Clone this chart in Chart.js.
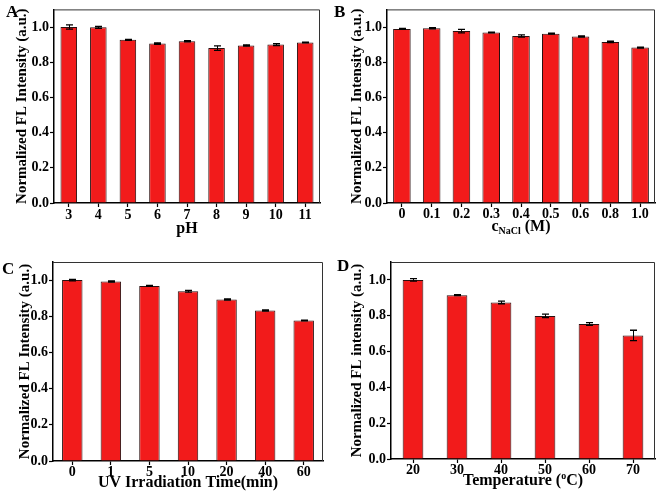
<!DOCTYPE html>
<html lang="en">
<head>
    <meta charset="UTF-8">
    <title>Normalized FL Intensity</title>
    <script src="https://cdn.jsdelivr.net/npm/chart.js"></script>
    <style>
        body { margin: 0; background: #fff; }
        #wrap { position: relative; width: 661px; height: 499px; }
        canvas { position: absolute; }
        .tag { position: absolute; font: bold 17px "Liberation Serif", serif; line-height: 17px; color: #000; }
    </style>
</head>
<body>
<div id="wrap">
    <canvas id="chartA" width="330" height="250" style="left:0;top:0"></canvas>
    <canvas id="chartB" width="331" height="250" style="left:330px;top:0"></canvas>
    <canvas id="chartC" width="330" height="249" style="left:0;top:250px"></canvas>
    <canvas id="chartD" width="331" height="249" style="left:330px;top:250px"></canvas>
    <div class="tag" style="left:6px;top:3px">A</div>
    <div class="tag" style="left:334px;top:3px">B</div>
    <div class="tag" style="left:2px;top:260px">C</div>
    <div class="tag" style="left:337px;top:257px">D</div>
</div>

<script>
    // --- data ---
    const phLabels = ["3", "4", "5", "6", "7", "8", "9", "10", "11"];
    const phValues = [1.000, 0.998, 0.927, 0.906, 0.919, 0.880, 0.895, 0.900, 0.912];
    const phErrors = [0.012, 0.005, 0.003, 0.004, 0.004, 0.013, 0.004, 0.005, 0.002];

    const naclLabels = ["0", "0.1", "0.2", "0.3", "0.4", "0.5", "0.6", "0.8", "1.0"];
    const naclValues = [0.989, 0.993, 0.977, 0.969, 0.949, 0.962, 0.946, 0.915, 0.883];
    const naclErrors = [0.003, 0.004, 0.010, 0.002, 0.006, 0.003, 0.003, 0.004, 0.003];

    const uvLabels = ["0", "1", "5", "10", "20", "40", "60"];
    const uvValues = [1.000, 0.992, 0.968, 0.938, 0.893, 0.832, 0.777];
    const uvErrors = [0.004, 0.003, 0.002, 0.005, 0.003, 0.003, 0.002];

    const tempLabels = ["20", "30", "40", "50", "60", "70"];
    const tempValues = [1.000, 0.915, 0.874, 0.799, 0.754, 0.690];
    const tempErrors = [0.007, 0.002, 0.007, 0.010, 0.008, 0.029];

    const yTicks = [0, 0.2, 0.4, 0.6, 0.8, 1.0];

    const SERIF = '"Liberation Serif", "Times New Roman", serif';

    // error bars, top/right frame and x title (with sub/superscript pieces)
    const extras = {
        id: 'extras',
        afterDatasetsDraw(chart, args, opts) {
            const ctx = chart.ctx;
            const y = chart.scales.y;
            const meta = chart.getDatasetMeta(0);
            const vals = chart.data.datasets[0].data;
            ctx.save();
            ctx.strokeStyle = '#000';
            meta.data.forEach((bar, i) => {
                const e = opts.errors[i];
                const x = Math.round(bar.x) + 0.5;
                const yt = y.getPixelForValue(vals[i] + e);
                const yb = y.getPixelForValue(vals[i] - e);
                ctx.lineWidth = 1;
                ctx.beginPath();
                ctx.moveTo(x, yt); ctx.lineTo(x, yb);
                ctx.stroke();
                ctx.lineWidth = 1.3;
                ctx.beginPath();
                ctx.moveTo(x - 3.5, yt); ctx.lineTo(x + 3.5, yt);
                ctx.moveTo(x - 3.5, yb); ctx.lineTo(x + 3.5, yb);
                ctx.stroke();
            });
            ctx.restore();
        },
        afterDraw(chart, args, opts) {
            const ctx = chart.ctx;
            const a = chart.chartArea;
            ctx.save();
            ctx.strokeStyle = '#333';
            ctx.lineWidth = 1;
            ctx.beginPath();
            ctx.moveTo(a.left, a.top + 0.5);
            ctx.lineTo(a.right - 0.5, a.top + 0.5);
            ctx.lineTo(a.right - 0.5, a.bottom);
            ctx.stroke();

            // x axis title
            const parts = opts.title;
            const size = 16;
            const widths = parts.map(p => {
                ctx.font = 'bold ' + (p.sub || p.sup ? 10 : size) + 'px ' + SERIF;
                return ctx.measureText(p.t).width;
            });
            const total = widths.reduce((s, w) => s + w, 0);
            let x = (a.left + a.right) / 2 - total / 2;
            const base = a.bottom + opts.titleOffset + 5;
            ctx.fillStyle = '#000';
            ctx.textBaseline = 'alphabetic';
            ctx.textAlign = 'left';
            parts.forEach((p, i) => {
                ctx.font = 'bold ' + (p.sub || p.sup ? 10 : size) + 'px ' + SERIF;
                const dy = p.sub ? 3 : (p.sup ? -6 : 0);
                ctx.fillText(p.t, x, base + dy);
                x += widths[i];
            });
            ctx.restore();
        }
    };

    function makePanel(id, labels, values, errors, o) {
        const cv = document.getElementById(id);
        const W = cv.width, H = cv.height;
        return new Chart(cv, {
            type: 'bar',
            data: {
                labels: labels,
                datasets: [{
                    data: values,
                    backgroundColor: '#F21B1B',
                    borderColor: '#2a1010',
                    borderWidth: 1,
                    barPercentage: o.barPct,
                    categoryPercentage: 1
                }]
            },
            options: {
                responsive: false,
                animation: false,
                events: [],
                layout: { padding: { top: o.top, right: W - o.right, left: 0, bottom: 0 } },
                plugins: {
                    legend: { display: false },
                    tooltip: { enabled: false },
                    extras: { errors: errors, title: o.xTitle, titleOffset: o.titleOffset }
                },
                scales: {
                    x: {
                        afterFit: s => { s.height = H - o.bottom; },
                        grid: { offset: false, drawOnChartArea: false, tickLength: 4, color: '#000', tickWidth: 1.2 },
                        border: { color: '#000', width: 1.5 },
                        ticks: { color: '#000', padding: o.xPad, maxRotation: 0, autoSkip: false,
                                 font: { family: SERIF, size: 14, weight: 'bold', lineHeight: 1.1 } }
                    },
                    y: {
                        min: 0,
                        max: 1.1,
                        afterFit: s => { s.width = o.left; },
                        afterBuildTicks: s => {
                            const t = [];
                            for (let k = 0; k <= 11; k++) t.push({ value: k / 10 });
                            s.ticks = t;
                        },
                        grid: { drawOnChartArea: false, tickLength: 4, color: '#000', tickWidth: 1.2 },
                        border: { color: '#000', width: 1.5 },
                        ticks: {
                            color: '#000',
                            padding: 1,
                            font: { family: SERIF, size: 14, weight: 'bold' },
                            callback: v => yTicks.some(t => Math.abs(t - v) < 1e-6) ? v.toFixed(1) : ''
                        },
                        title: {
                            display: true,
                            text: o.yTitle,
                            color: '#000',
                            padding: { top: o.yTitleX - 9, bottom: 0 },
                            font: { family: SERIF, size: 15, weight: 'bold', lineHeight: 1.2 }
                        }
                    }
                }
            },
            plugins: [extras]
        });
    }

    makePanel('chartA', phLabels, phValues, phErrors, {
        left: 54, right: 320, top: 9, bottom: 203, barPct: 0.56, xPad: 1, titleOffset: 25, yTitleX: 22,
        yTitle: 'Normalized FL Intensity (a.u.)', xTitle: [{ t: 'pH' }]
    });
    makePanel('chartB', naclLabels, naclValues, naclErrors, {
        left: 57, right: 325, top: 7, bottom: 203, barPct: 0.59, xPad: 0, titleOffset: 23, yTitleX: 27,
        yTitle: 'Normalized FL Intensity (a.u.)', xTitle: [{ t: 'c' }, { t: 'NaCl', sub: true }, { t: ' (M)' }]
    });
    makePanel('chartC', uvLabels, uvValues, uvErrors, {
        left: 53, right: 323, top: 12, bottom: 211, barPct: 0.53, xPad: 0, titleOffset: 21, yTitleX: 25,
        yTitle: 'Normalized FL Intensity (a.u.)', xTitle: [{ t: 'UV Irradiation Time(min)' }]
    });
    makePanel('chartD', tempLabels, tempValues, tempErrors, {
        left: 61, right: 325, top: 12, bottom: 209, barPct: 0.47, xPad: 0, titleOffset: 21, yTitleX: 27,
        yTitle: 'Normalized FL intensity (a.u.)', xTitle: [{ t: 'Temperature (' }, { t: 'o', sup: true }, { t: 'C)' }]
    });
</script>
</body>
</html>
